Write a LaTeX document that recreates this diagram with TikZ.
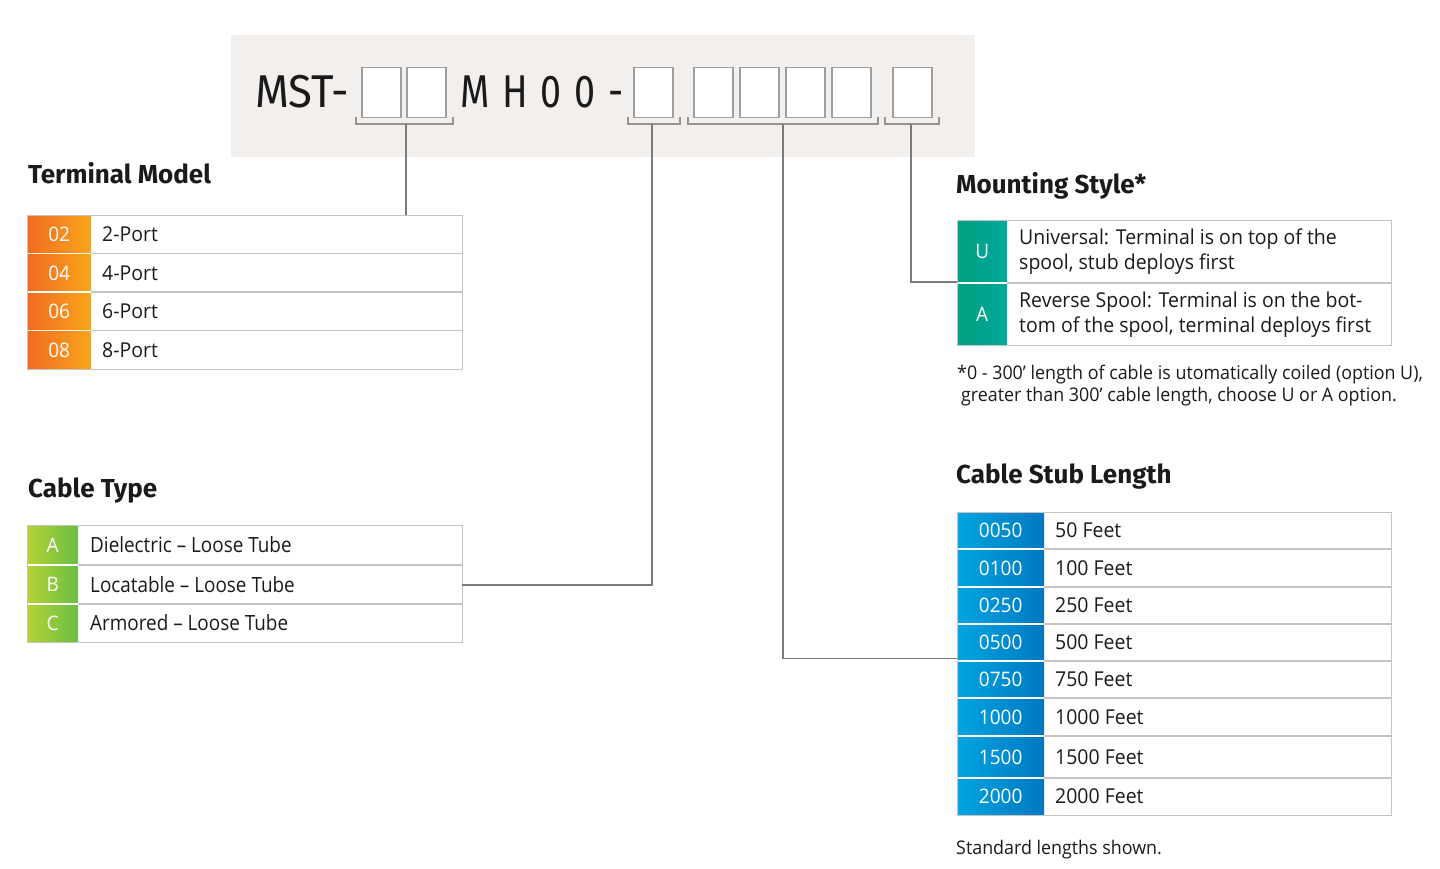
\documentclass[tikz,border=0pt]{standalone}
\usepackage{fontspec}
\setmainfont{Open Sans}[FakeStretch=0.95]
\newfontfamily\headfont{Fira Sans}
\newfontfamily\pnfont{Fira Sans}[FakeStretch=0.95]
\newfontfamily\pnnarrow{Fira Sans}[FakeStretch=0.82]
\newfontfamily\condfont{Open Sans}[FakeStretch=0.9]
\definecolor{ink}{HTML}{1A1A1A}
\definecolor{hdrbg}{HTML}{F2EFEC}
\definecolor{rulec}{HTML}{C4C4C4}
\definecolor{connc}{HTML}{7A7A7A}
\definecolor{orA}{HTML}{F26A21}\definecolor{orB}{HTML}{F9A51B}
\definecolor{grA}{HTML}{B5D334}\definecolor{grB}{HTML}{6ABD45}
\definecolor{tlA}{HTML}{009F7F}\definecolor{tlB}{HTML}{00A99D}
\definecolor{blA}{HTML}{00A4E1}\definecolor{blB}{HTML}{0078C1}
\tikzset{
  heading/.style={anchor=base west, inner sep=0pt, text=ink, font=\headfont\bfseries\fontsize{26}{30}\selectfont},
  codecell/.style={draw=none, inner sep=0pt, anchor=north west, text=white, font=\fontsize{20}{24}\selectfont},
  desc/.style={anchor=west, inner sep=0pt, text=ink, font=\fontsize{20.5}{25}\selectfont, align=left},
  tframe/.style={draw=rulec, line width=1.3pt, anchor=north west, inner sep=0pt},
  sepline/.style={draw=rulec, line width=1.3pt},
  wsep/.style={draw=white, line width=1.3pt},
  slot/.style={draw=gray!75, fill=white, line width=1.2pt, minimum width=39pt, minimum height=50pt, inner sep=0pt},
  brk/.style={draw=gray!85, line width=1.2pt},
  conn/.style={draw=connc, line width=1.2pt},
  note/.style={anchor=base west, inner sep=0pt, text=ink, font=\fontsize{18.8}{22}\selectfont, align=left},
  pn/.style={anchor=base west, inner sep=0pt, text=ink, font=\pnfont\fontsize{46}{50}\selectfont}
}
\begin{document}
\begin{tikzpicture}[x=1pt,y=-1pt]
\useasboundingbox (0,0) rectangle (1440,868);
% ---------- header ----------
\node[fill=hdrbg, minimum width=744pt, minimum height=122pt, anchor=north west, inner sep=0pt] (hdr) at (231,35) {};
\node[pn] (mst) at (255,107) {MST-};
\node[pn, font=\pnnarrow\fontsize{46}{50}\selectfont] (mh) at (460,107) {\addfontfeatures{LetterSpace=28}MH00-};
\node[slot] (s1) at (381.5,92.5) {};
\node[slot] (s2) at (426.5,92.5) {};
\node[slot] (s3) at (653.5,92.5) {};
\node[slot] (s4) at (713.5,92.5) {};
\node[slot] (s5) at (759.5,92.5) {};
\node[slot] (s6) at (805.5,92.5) {};
\node[slot] (s7) at (851.5,92.5) {};
\node[slot] (s8) at (912.5,92.5) {};
\draw[brk] (356,117) -- (356,124) -- (453,124) -- (453,117);
\draw[brk] (628,117) -- (628,124) -- (680,124) -- (680,117);
\draw[brk] (688,117) -- (688,124) -- (878,124) -- (878,117);
\draw[brk] (885,117) -- (885,124) -- (939,124) -- (939,117);
\coordinate (k1) at (406,124);
\coordinate (k2) at (652,124);
\coordinate (k3) at (783,124);
\coordinate (k4) at (911,124);
% ---------- Terminal Model ----------
\node[heading] (tmh) at (28,183) {Terminal Model};
\foreach \c/\d [count=\i] in {02/2-Port,04/4-Port,06/6-Port,08/8-Port}{
  \node[codecell, left color=orA, right color=orB, minimum width=64pt, minimum height=38.5pt] (tmc\i) at ({27},{215+38.5*(\i-1)}) {\c};
  \node[desc] (tmd\i) at ({102},{234.5+38.5*(\i-1)}) {\d};
}
\foreach \y in {253.5,292,330.5}{
  \draw[wsep] (27,\y) -- (91,\y);
  \draw[sepline] (91,\y) -- (462,\y);
}
\node[tframe, minimum width=435pt, minimum height=154pt] (tm) at (27,215) {};
% ---------- Cable Type ----------
\node[heading] (cth) at (28,497) {Cable Type};
\foreach \t/\h/\c/\d [count=\i] in {525/40/A/Dielectric – Loose Tube,565/39/B/Locatable – Loose Tube,604/38/C/Armored – Loose Tube}{
  \node[codecell, left color=grA, right color=grB, minimum width=51pt, minimum height=\h pt] (ctc\i) at (27,\t) {\c};
  \node[desc, font=\condfont\fontsize{21}{25}\selectfont] (ctd\i) at ({90},{\t+\h/2}) {\d};
}
\foreach \y in {565,604}{
  \draw[wsep] (27,\y) -- (78,\y);
  \draw[sepline] (78,\y) -- (462,\y);
}
\node[tframe, minimum width=435pt, minimum height=117pt] (ct) at (27,525) {};
% ---------- Mounting Style ----------
\node[heading] (msh) at (956,193) {Mounting Style*};
\node[codecell, left color=tlA, right color=tlB, minimum width=50pt, minimum height=63pt] (msc1) at (957,220) {U};
\node[codecell, left color=tlA, right color=tlB, minimum width=50pt, minimum height=62pt] (msc2) at (957,283) {A};
\node[desc] (msd1) at (1019,252) {Universal: Terminal is on top of the\\spool, stub deploys first};
\node[desc] (msd2) at (1019,315) {Reverse Spool: Terminal is on the bot-\\tom of the spool, terminal deploys first};
\draw[wsep] (957,283) -- (1007,283);
\draw[sepline] (1007,283) -- (1391,283);
\node[tframe, minimum width=434pt, minimum height=125pt] (ms) at (957,220) {};
\node[note] (msn) at (957,401) {*0 - 300’ length of cable is utomatically coiled (option U),\\\hspace*{4pt}greater than 300’ cable length, choose U or A option.};
% ---------- Cable Stub Length ----------
\node[heading] (csh) at (956,483) {Cable Stub Length};
\foreach \t/\h/\c/\d [count=\i] in {512/37/0050/50 Feet,549/38/0100/100 Feet,587/37/0250/250 Feet,624/37/0500/500 Feet,661/37/0750/750 Feet,698/38/1000/1000 Feet,736/42/1500/1500 Feet,778/37/2000/2000 Feet}{
  \node[codecell, left color=blA, right color=blB, minimum width=87pt, minimum height=\h pt] (csc\i) at (957,\t) {\c};
  \node[desc] (csd\i) at ({1055},{\t+\h/2}) {\d};
}
\foreach \y in {549,587,624,661,698,736,778}{
  \draw[wsep] (957,\y) -- (1044,\y);
  \draw[sepline] (1044,\y) -- (1391,\y);
}
\node[tframe, minimum width=434pt, minimum height=303pt] (cs) at (957,512) {};
\node[note] (csn) at (956,854) {Standard lengths shown.};
% ---------- connectors ----------
\coordinate (e2) at (462,585);
\coordinate (e3) at (957,658.5);
\coordinate (e4) at (957,282);
\draw[conn] (k1) -- (k1 |- tm.north);
\draw[conn] (k2) |- (e2);
\draw[conn] (k3) |- (e3);
\draw[conn] (k4) |- (e4);
\end{tikzpicture}
\end{document}
